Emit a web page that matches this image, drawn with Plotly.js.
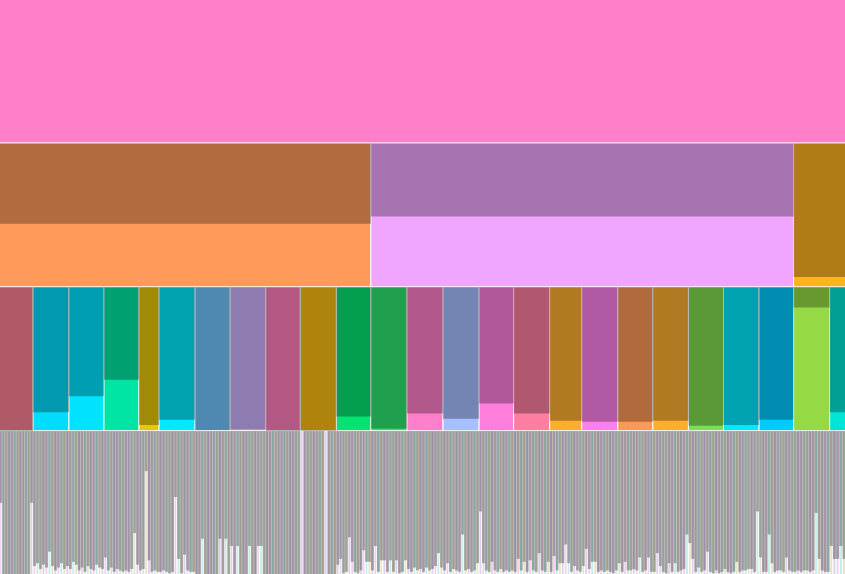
<!DOCTYPE html>
<html>
<head>
<meta charset="utf-8">
<script src="https://cdn.plot.ly/plotly-3.0.1.min.js"></script>
<style>html,body{margin:0;padding:0;background:#fff;overflow:hidden}</style>
</head>
<body>
<div id="chart" style="width:845px;height:574px"></div>
<script>
// level 1: root
var root_color = "#ff7fc8";
var root_light = 1;

// level 2
var mid_colors = ["#ff9a5a", "#f0a6ff", "#fbb41c"];
var mid_light = [0.44, 0.49, 0.07];

// level 3 (parent = index in level 2)
var branch_parent = [0,0,0,0,0,0,0,0,0,0,0, 1,1,1,1,1,1,1,1,1,1,1,1, 2,2];
var branch_values = [33.7, 35.8, 35, 35, 20, 36, 35, 35.5, 34.5, 36, 34.5,
                     36, 36, 36, 34.5, 36, 32, 36, 35, 35.5, 35, 35.5, 34.5,
                     36, 16];
var branch_colors = ["#fd8196", "#00dcfc", "#00e3ff", "#00e5a3", "#e5c80b", "#00e9ff",
                     "#71c5ff", "#ccb1ff", "#ff7eba", "#fabd14", "#07e272",
                     "#2ee572", "#ff7fcb", "#a5bfff", "#fd7edb", "#fd7ea1", "#fdae31",
                     "#fd80ed", "#fd9957", "#fdae31", "#80dc50", "#00e9ff", "#00cbff",
                     "#95da45", "#00e5d4"];
var branch_light = [0, 0.13, 0.24, 0.355, 0.04, 0.077, 0.006, 0.01, 0, 0, 0.1,
                    0.014, 0.12, 0.084, 0.19, 0.12, 0.07, 0.063, 0.063, 0.07, 0.035, 0.04, 0.077,
                    0.857, 0.13];

// level 4: light share of each leaf, one list per level-3 node
var leaf_light = [
    [0.5,0,0,0,0,0,0,0,0,0,0,0.5],
    [0.06,0.08,0.04,0.07,0.05,0.16,0.06,0.03,0.05,0.08,0.04,0.06],
    [0.04,0.09,0.07,0.03,0.05,0.02,0.06,0.04,0.03,0.07,0.05,0.04],
    [0.12,0.03,0.05,0.02,0.04,0.03,0.02,0.03,0.02,0.04,0.29,0.07],
    [0.03,0.04,0.72,0.1,0.02,0.03,0.02],
    [0.02,0.03,0.02,0.01,0.02,0.54,0.11,0.01,0.14,0.03,0.02,0.02],
    [0,0,0.25,0,0,0,0,0,0.25,0,0.25,0],
    [0.2,0,0.2,0,0,0,0.2,0,0,0.2,0.2,0],
    [0,0,0,0,0,0,0,0,0,0,0,0],
    [1,0,0,0,0,0,0,0,1,0,0,0],
    [0.07,0.11,0.01,0.02,0.26,0.09,0.02,0.01,0.03,0.17,0.09,0.09],
    [0.03,0.2,0.02,0.1,0.1,0.02,0.1,0.02,0.1,0.01,0.02,0.1],
    [0.04,0.02,0.05,0.03,0.04,0.02,0.05,0.03,0.04,0.06,0.15,0.05],
    [0.03,0.08,0.02,0.04,0.03,0.02,0.28,0.03,0.04,0.02,0.03,0.08],
    [0.44,0.08,0.03,0.02,0.09,0.03,0.02,0.04,0.02,0.03,0.02,0.03],
    [0.02,0.11,0.03,0.09,0.02,0.1,0.03,0.02,0.15,0.03,0.02,0.09],
    [0.02,0.13,0.03,0.08,0.08,0.21,0.08,0.02,0.06,0.03,0.02],
    [0.06,0.18,0.04,0.09,0.09,0.02,0.03,0.02,0.03,0.02,0.01,0.03],
    [0.08,0.02,0.09,0.03,0.03,0.04,0.03,0.12,0.02,0.03,0.12,0.02],
    [0.02,0.15,0.06,0.02,0.01,0.08,0.02,0.08,0.02,0.03,0.04,0.28],
    [0.22,0.11,0.02,0.05,0.02,0.03,0.16,0.02,0.01,0.03,0.01,0.02],
    [0.04,0.02,0.01,0.02,0.09,0.02,0.03,0.03,0.04,0.04,0.02,0.44],
    [0.12,0.02,0.02,0.28,0.08,0.02,0.03,0.03,0.02,0.12,0.03,0.02],
    [0.02,0.03,0.02,0.03,0.03,0.02,0.03,0.43,0.11,0.03,0.02,0.02],
    [0.2,0.11,0.11,0.2,0.11]
];
var leaf_tints = ["#f2d2e8", "#c6ecec", "#e8e4ca", "#dcd2ee"];

var cell_x = [], cell_w = [], cell_base = [], cell_h = [], cell_color = [];
var shade_x = [], shade_w = [], shade_base = [], shade_h = [];

function add_cell(level, left, width, color, light) {
    cell_x.push(left + width / 2);
    cell_w.push(width);
    cell_base.push(level);
    cell_h.push(1);
    cell_color.push(color);
    if (light < 1) {
        shade_x.push(left + width / 2);
        shade_w.push(width);
        shade_base.push(level);
        shade_h.push(1 - light);
    }
}

// parents sized by the sum of their children
var mid_values = [0, 0, 0];
for (i=0; i<branch_values.length; i++) {
    mid_values[branch_parent[i]] += branch_values[i];
}
var total = mid_values[0] + mid_values[1] + mid_values[2];

add_cell(0, 0, total, root_color, root_light);

var left = 0;
for (i=0; i<mid_values.length; i++) {
    add_cell(1, left, mid_values[i], mid_colors[i], mid_light[i]);
    left += mid_values[i];
}

left = 0;
var k = 0;
for (i=0; i<branch_values.length; i++) {
    add_cell(2, left, branch_values[i], branch_colors[i], branch_light[i]);
    var n = leaf_light[i].length;
    var lw = branch_values[i] / n;
    for (j=0; j<n; j++) {
        add_cell(3, left + j * lw, lw, leaf_tints[k % leaf_tints.length], leaf_light[i][j]);
        k++;
    }
    left += branch_values[i];
}

var cells = {
    type: 'bar',
    x: cell_x,
    y: cell_h,
    base: cell_base,
    width: cell_w,
    marker: {color: cell_color, line: {color: '#ffffff', width: 1}},
    hoverinfo: 'skip'
};

var shade = {
    type: 'bar',
    x: shade_x,
    y: shade_h,
    base: shade_base,
    width: shade_w,
    marker: {color: 'rgba(0,0,0,0.3)', line: {width: 0}},
    hoverinfo: 'skip'
};

// trim the outer half-pixel so the frame's white edge is not shown
var layout = {
    width: 845,
    height: 574,
    margin: {t: 0, l: 0, r: 0, b: 0, pad: 0},
    barmode: 'overlay',
    showlegend: false,
    paper_bgcolor: '#ffffff',
    plot_bgcolor: '#ffffff',
    xaxis: {range: [0.7, total - 0.7], visible: false, fixedrange: true},
    yaxis: {range: [3.995, 0.005], visible: false, fixedrange: true}
};

Plotly.newPlot('chart', [cells, shade], layout, {displayModeBar: false, staticPlot: true});
</script>
</body>
</html>
